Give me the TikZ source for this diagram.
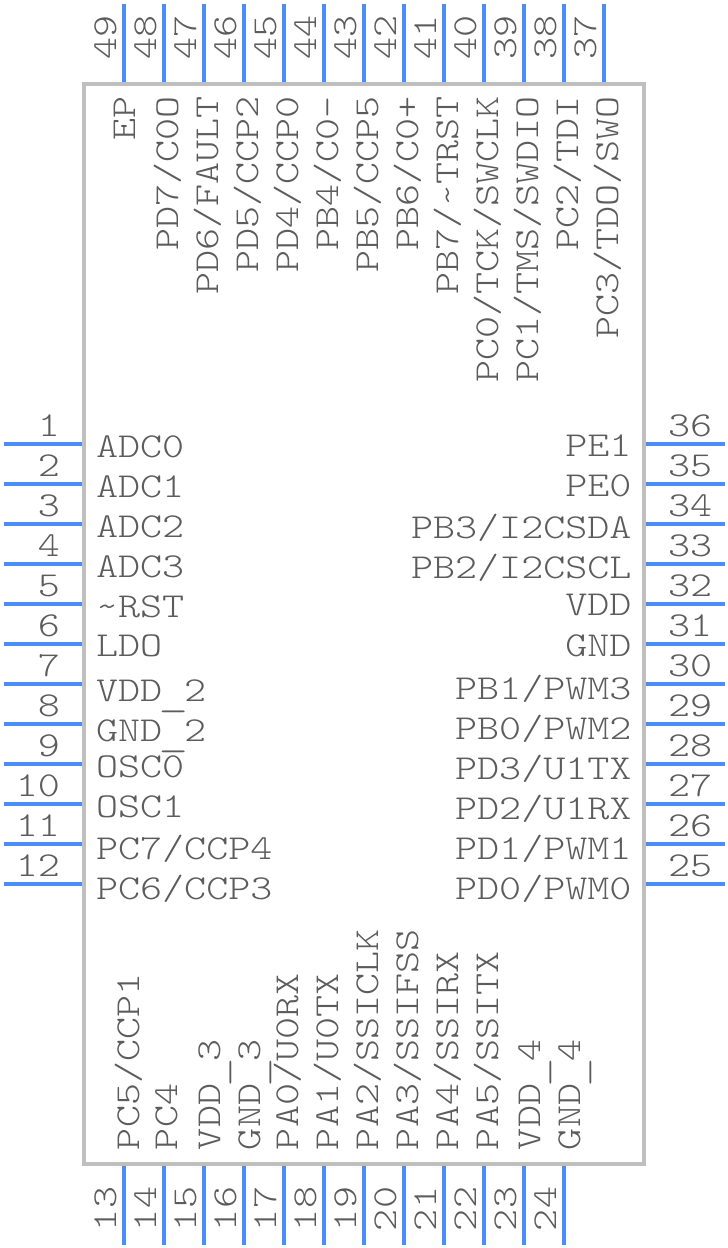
\documentclass[tikz,border=0pt]{standalone}
\usepackage{fontspec}
\usepackage{graphicx}
\setmainfont{Latin Modern Mono Light}[FakeStretch=1.2]
\definecolor{pinblue}{HTML}{4A8DF6}
\definecolor{boxgrey}{HTML}{BFBFBF}
\definecolor{txtgrey}{HTML}{5C5C5C}
\newcommand{\pinusc}{\makebox[22pt]{\raisebox{-5pt}{\scalebox{1.35}[1]{\_}}}}
\tikzset{
  x=1pt,y=-1pt,
  chip/.style={draw=boxgrey,line width=4pt,fill=white},
  pinline/.style={draw=pinblue,line width=4pt},
  lbl/.style={inner sep=0pt,outer sep=0pt,text=txtgrey,font=\fontsize{35}{35}\selectfont},
  rlbl/.style={lbl,rotate=90},
}
\begin{document}
\begin{tikzpicture}
\useasboundingbox (0,0) rectangle (728,1248);
\node[chip,minimum width=560pt,minimum height=1080pt,inner sep=0pt,anchor=north west] (body) at (82,82) {};
% left pins
\foreach \n/\yy/\lb/\by in {1/444/{ADC0}/457,2/484/{ADC1}/497,3/524/{ADC2}/537,4/564/{ADC3}/577,5/604/{\textasciitilde RST}/617,6/644/{LDO}/656,7/684/{VDD\pinusc 2}/701,8/724/{GND\pinusc 2}/741,9/764/{OSC0}/777,10/804/{OSC1}/817,11/844/{PC7/CCP4}/859,12/884/{PC6/CCP3}/899}{
  \coordinate (p\n) at (3.5,\yy);
  \draw[pinline] (p\n) -- (body.west |- p\n);
  \node[lbl,anchor=base east] (n\n) at (60,\yy-8) {\n};
  \node[lbl,anchor=base west] (t\n) at (96,\by) {\lb};
}
% right pins
\foreach \n/\yy/\lb/\by in {36/444/{PE1}/456,35/484/{PE0}/496,34/524/{PB3/I2CSDA}/538,33/564/{PB2/I2CSCL}/578,32/604/{VDD}/615,31/644/{GND}/656,30/684/{PB1/PWM3}/699,29/724/{PB0/PWM2}/739,28/764/{PD3/U1TX}/779,27/804/{PD2/U1RX}/819,26/844/{PD1/PWM1}/859,25/884/{PD0/PWM0}/899}{
  \coordinate (p\n) at (724.5,\yy);
  \draw[pinline] (p\n) -- (body.east |- p\n);
  \node[lbl,anchor=base west] (n\n) at (668,\yy-8) {\n};
  \node[lbl,anchor=base east] (t\n) at (631.5,\by) {\lb};
}
% top pins
\foreach \n/\xx/\lb/\bx in {49/124/{EP}/135,48/164/{PD7/C0O}/178,47/204/{PD6/FAULT}/218,46/244/{PD5/CCP2}/258,45/284/{PD4/CCP0}/298,44/324/{PB4/C0-}/338,43/364/{PB5/CCP5}/378,42/404/{PB6/C0+}/418,41/444/{PB7/\textasciitilde TRST}/458,40/484/{PC0/TCK/SWCLK}/498,39/524/{PC1/TMS/SWDIO}/538,38/564/{PC2/TDI}/578,37/604/{PC3/TDO/SWO}/618}{
  \coordinate (p\n) at (\xx,3.5);
  \draw[pinline] (p\n) -- (p\n |- body.north);
  \node[rlbl,anchor=base east] (n\n) at (\xx-8,15) {\n};
  \node[rlbl,anchor=base east] (t\n) at (\bx,96) {\lb};
}
% bottom pins
\foreach \n/\xx/\lb/\bx in {13/124/{PC5/CCP1}/139,14/164/{PC4}/177,15/204/{VDD\pinusc 3}/220,16/244/{GND\pinusc 3}/260,17/284/{PA0/U0RX}/298,18/324/{PA1/U0TX}/338,19/364/{PA2/SSICLK}/378,20/404/{PA3/SSIFSS}/418,21/444/{PA4/SSIRX}/458,22/484/{PA5/SSITX}/498,23/524/{VDD\pinusc 4}/540,24/564/{GND\pinusc 4}/580}{
  \coordinate (p\n) at (\xx,1244.5);
  \draw[pinline] (p\n) -- (p\n |- body.south);
  \node[rlbl,anchor=base west] (n\n) at (\xx-8,1231) {\n};
  \node[rlbl,anchor=base west] (t\n) at (\bx,1150) {\lb};
}
\end{tikzpicture}
\end{document}
